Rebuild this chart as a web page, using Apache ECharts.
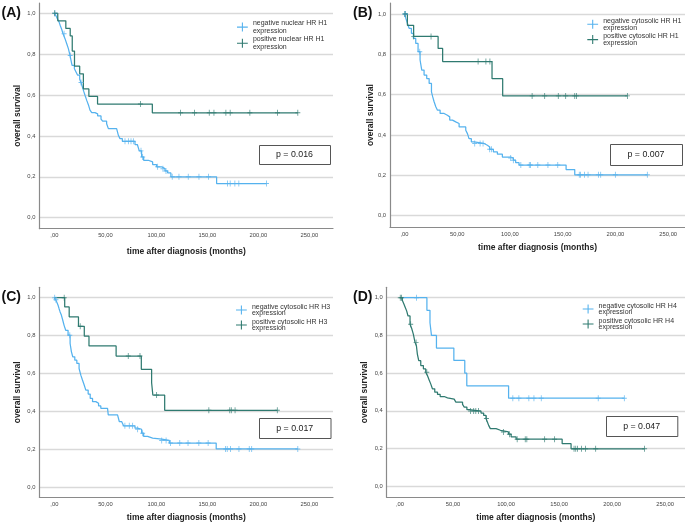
<!DOCTYPE html>
<html><head><meta charset="utf-8">
<script src="https://cdn.jsdelivr.net/npm/echarts@6/dist/echarts.min.js"></script>
<style>
html,body{margin:0;padding:0;background:#fff;width:685px;height:525px;overflow:hidden}
.p{position:absolute}
</style></head><body>
<div id="pA" class="p" style="left:0;top:0;width:340px;height:260px"></div>
<div id="pB" class="p" style="left:340px;top:0;width:345px;height:260px"></div>
<div id="pC" class="p" style="left:0;top:260px;width:340px;height:265px"></div>
<div id="pD" class="p" style="left:340px;top:260px;width:345px;height:265px"></div>
<script>
// ---------- tick labels ----------
const xTicks = [0, 50, 100, 150, 200, 250];
const yTicks = [0, 0.2, 0.4, 0.6, 0.8, 1.0];
const xTitle = 'time after diagnosis (months)';
const yTitle = 'overall survival';
const panelLabels = ['(A)', '(B)', '(C)', '(D)'];
const pValues = ['p = 0.016', 'p = 0.007', 'p = 0.017', 'p = 0.047'];

// ---------- legend labels ----------
const A_names = ['negative nuclear HR H1\nexpression', 'positive nuclear HR H1\nexpression'];
const B_names = ['negative cytosolic HR H1\nexpression', 'positive cytosolic HR H1\nexpression'];
const C_names = ['negative cytosolic HR H3\nexpression', 'positive cytosolic HR H3\nexpression'];
const D_names = ['negative cytosolic HR H4\nexpression', 'positive cytosolic HR H4\nexpression'];

// ---------- Panel A ----------
const A_neg_time = [0, 1.3, 2.9, 4.6, 5.9, 7.2, 8.5, 10.4, 12.1, 13.7, 15.3, 16.3, 17.3, 19.6, 21.2, 22.8, 24.8, 26.1, 27.4, 28.7, 30.0, 31.7, 33.3, 34.9, 36.6, 39.8, 42.4, 45.7, 47.3, 51.2, 52.9, 61.0, 62.7, 64.3, 66.6, 79.0, 81.3, 83.2, 85.5, 87.5, 92.0, 96.3, 100.2, 105.1, 108.4, 111.0, 114.2, 159.0, 207.9];
const A_neg_surv = [1, 0.99, 0.974, 0.957, 0.938, 0.921, 0.90, 0.876, 0.851, 0.827, 0.794, 0.77, 0.745, 0.729, 0.713, 0.697, 0.677, 0.661, 0.64, 0.619, 0.599, 0.574, 0.553, 0.526, 0.514, 0.508, 0.498, 0.482, 0.472, 0.46, 0.436, 0.428, 0.403, 0.387, 0.374, 0.358, 0.351, 0.327, 0.297, 0.281, 0.273, 0.26, 0.249, 0.24, 0.229, 0.219, 0.2, 0.167, 0.167];
const A_neg_censor = [0.5, 9.5, 15.5, 26.1, 69.2, 72.5, 75.1, 77.4, 84.9, 86.5, 101.2, 106.4, 109.4, 115.5, 122.1, 131.2, 141.7, 151.1, 169.7, 172.3, 176.9, 180.8, 207.9];
const A_pos_time = [0, 3.3, 11.2, 15.5, 17.5, 19.7, 24.8, 28.4, 33.8, 42.3, 96, 238.6];
const A_pos_surv = [1, 0.963, 0.926, 0.889, 0.815, 0.741, 0.704, 0.63, 0.593, 0.556, 0.513, 0.513];
const A_pos_censor = [0.3, 84.3, 123.7, 137.4, 151.8, 156.4, 168.1, 172.3, 191.6, 218.7, 238.6];

// ---------- Panel B ----------
const B_neg_time = [0, 1.3, 2.8, 4.4, 6.6, 8.5, 10.7, 12.9, 14.8, 16.4, 18.6, 21.1, 23.4, 25.6, 26.8, 28.1, 29.7, 31.3, 33.8, 37.6, 40.7, 42.9, 45.5, 48.6, 51.8, 58.1, 59.7, 61.2, 63.4, 66.0, 75.4, 78.6, 80.8, 84.3, 88.1, 92.8, 100.7, 103.2, 105.4, 108.6, 153.2, 161.4, 230.2];
const B_neg_surv = [1, 0.978, 0.954, 0.929, 0.904, 0.879, 0.854, 0.813, 0.772, 0.722, 0.697, 0.68, 0.656, 0.614, 0.589, 0.565, 0.54, 0.523, 0.507, 0.498, 0.49, 0.474, 0.465, 0.457, 0.44, 0.424, 0.407, 0.382, 0.366, 0.358, 0.349, 0.341, 0.329, 0.316, 0.305, 0.291, 0.286, 0.275, 0.263, 0.251, 0.229, 0.203, 0.203];
const B_neg_censor = [0.3, 1.0, 14.5, 66.6, 71.7, 74.5, 80.8, 82.4, 100.7, 103.2, 110.3, 118.3, 119.5, 126.4, 136.0, 145.3, 165.7, 166.8, 170.6, 174.0, 183.8, 186.0, 199.9, 230.2];
const B_pos_time = [0, 2.8, 8.7, 31.9, 36.2, 83.0, 93.1, 211.3];
const B_pos_surv = [1, 0.944, 0.889, 0.829, 0.764, 0.679, 0.594, 0.594];
const B_pos_censor = [0.5, 8.8, 25.2, 69.8, 77.2, 81.0, 121.0, 132.9, 145.8, 152.8, 161.4, 163.0, 211.3];

// ---------- Panel C ----------
const C_neg_time = [0, 1.3, 2.3, 3.6, 4.6, 5.6, 6.9, 8.2, 9.5, 11.1, 13.4, 15.4, 16.7, 18.0, 20.0, 22.0, 24.2, 25.9, 27.5, 29.2, 30.8, 33.1, 35.1, 37.4, 40.6, 43.3, 45.5, 52.1, 52.8, 61.9, 63.6, 65.9, 67.8, 79.0, 81.6, 85.5, 87.5, 91.4, 96.3, 105.2, 112.7, 158.6, 238.6];
const C_neg_surv = [1, 0.989, 0.977, 0.96, 0.942, 0.925, 0.907, 0.881, 0.854, 0.828, 0.802, 0.758, 0.714, 0.688, 0.67, 0.653, 0.626, 0.591, 0.565, 0.539, 0.512, 0.491, 0.468, 0.451, 0.442, 0.428, 0.416, 0.407, 0.381, 0.372, 0.346, 0.337, 0.323, 0.311, 0.305, 0.284, 0.267, 0.258, 0.253, 0.246, 0.232, 0.201, 0.201];
const C_neg_censor = [0.3, 1.5, 15.1, 69.1, 73.4, 76.7, 81.6, 86.5, 105.2, 109.5, 113.7, 122.9, 131.0, 141.6, 150.7, 167.8, 169.4, 172.7, 180.9, 191.0, 193.4, 238.6];
const C_pos_time = [0, 10.1, 14.5, 23.6, 29.3, 33.9, 60.5, 85.2, 95.3, 96.5, 108.1, 218.5];
const C_pos_surv = [1, 0.951, 0.899, 0.849, 0.797, 0.745, 0.692, 0.622, 0.551, 0.486, 0.405, 0.405];
const C_pos_censor = [9.6, 25.3, 72.4, 83.9, 100.2, 151.4, 171.9, 173.4, 177.1, 218.5];

// ---------- Panel D ----------
const D_neg_time = [0, 25.4, 28.3, 29.7, 34.4, 50.8, 61.1, 63.0, 102.4, 211.5];
const D_neg_surv = [1, 0.933, 0.867, 0.8, 0.733, 0.667, 0.6, 0.533, 0.467, 0.467];
const D_neg_censor = [15.5, 106.4, 112.1, 121.5, 126.3, 133.2, 186.9, 211.5];
const D_pos_time = [0, 2.2, 3.8, 5.1, 6.3, 7.6, 9.5, 11.0, 12.6, 14.2, 15.5, 16.4, 17.7, 19.6, 22.1, 24.3, 25.9, 27.5, 29.0, 30.6, 32.8, 35.4, 37.9, 41.7, 44.8, 51.1, 52.7, 59.0, 60.6, 63.1, 65.3, 76.4, 78.9, 81.1, 82.4, 83.6, 85.2, 90.6, 94.7, 102.3, 104.8, 109.5, 152.9, 161.3, 230.6];
const D_pos_surv = [1, 0.986, 0.965, 0.947, 0.93, 0.903, 0.859, 0.838, 0.807, 0.763, 0.745, 0.701, 0.666, 0.64, 0.622, 0.605, 0.587, 0.564, 0.543, 0.517, 0.499, 0.487, 0.476, 0.469, 0.462, 0.455, 0.446, 0.434, 0.42, 0.406, 0.399, 0.388, 0.376, 0.359, 0.341, 0.323, 0.306, 0.297, 0.288, 0.276, 0.262, 0.25, 0.226, 0.199, 0.199];
const D_pos_censor = [0.3, 1.5, 10.1, 15.2, 25.3, 66.6, 69.5, 71.5, 74.0, 81.5, 97.5, 103.2, 110.5, 118.1, 119.6, 136.4, 145.8, 164.1, 165.7, 167.3, 171.1, 174.9, 184.5, 230.6];

// ---------- styling ----------
const NEG_COLOR = '#55b2ee';
const POS_COLOR = '#2f7a70';
const FONT = 'Liberation Sans, Arial, sans-serif';
const CROSS = 'path://M0,4.2H10V5.8H0Z M4.2,0H5.8V10H4.2Z';
const LEG_ICON = 'path://M0,4.4H12V5.6H0Z M5.4,0H6.6V10H5.4Z';

function stepData(T, S) { return T.map((t, i) => [t, S[i]]); }
function survAt(T, S, t) {
  let s = S[0];
  for (let i = 0; i < T.length; i++) { if (T[i] <= t + 1e-9) s = S[i]; else break; }
  return s;
}
function censorData(T, S, C) { return C.map(t => [t, survAt(T, S, t)]); }
const fmtX = v => (v === 0 ? ',00' : v.toFixed(2).replace('.', ','));
const fmtY = v => v.toFixed(1).replace('.', ',');

function build(cfg) {
  const chart = echarts.init(document.getElementById(cfg.el), null, { renderer: 'canvas' });
  const series = [];
  cfg.curves.forEach(c => {
    series.push({
      type: 'line', name: c.name, step: 'end', data: stepData(c.T, c.S),
      showSymbol: false, symbol: 'none', color: c.color, itemStyle: { color: c.color },
      lineStyle: { color: c.color, width: 1.25 }, silent: true, z: 3
    });
  });
  cfg.curves.forEach((c, k) => {
    series.push({
      type: 'scatter', name: 'censored ' + k, data: censorData(c.T, c.S, c.C),
      symbol: CROSS, symbolSize: [5, 6], itemStyle: { color: c.color }, silent: true, z: 4
    });
  });
  chart.setOption({
    animation: false,
    grid: Object.assign({ containLabel: false, outerBoundsMode: 'none' }, cfg.grid),
    xAxis: {
      type: 'value', min: cfg.x[0], max: cfg.x[1],
      name: xTitle, nameLocation: 'middle', nameGap: cfg.nameGapX, nameMoveOverlap: false,
      nameTextStyle: { fontWeight: 'bold', fontSize: 8.5, color: '#222', fontFamily: FONT },
      axisLine: { show: true, onZero: false, lineStyle: { color: '#8a8a8a', width: 1.2 } },
      axisTick: { show: false, customValues: xTicks },
      axisLabel: { customValues: xTicks, formatter: fmtX, fontSize: 5.8, color: '#444', margin: 4, fontFamily: FONT },
      splitLine: { show: false }
    },
    yAxis: {
      type: 'value', min: cfg.y[0], max: cfg.y[1],
      name: yTitle, nameLocation: 'middle', nameGap: cfg.nameGapY, nameMoveOverlap: false,
      nameTextStyle: { fontWeight: 'bold', fontSize: 8.5, color: '#222', fontFamily: FONT },
      axisLine: { show: true, onZero: false, lineStyle: { color: '#8a8a8a', width: 1.2 } },
      axisTick: { show: false, customValues: yTicks },
      axisLabel: { customValues: yTicks, formatter: fmtY, fontSize: 5.8, color: '#444', margin: 4, fontFamily: FONT },
      splitLine: { show: true, lineStyle: { color: '#d9d9d9', width: 1.3 } }
    },
    legend: {
      orient: 'vertical', left: cfg.legend.left, top: cfg.legend.top, itemGap: cfg.legend.gap,
      padding: 0, itemWidth: 11, itemHeight: 9, icon: LEG_ICON, selectedMode: false,
      textStyle: { fontSize: 7, lineHeight: cfg.legend.lh, color: '#333', fontFamily: FONT },
      data: cfg.curves.map(c => c.name)
    },
    graphic: [
      { type: 'text', x: cfg.label.x, y: cfg.label.y, z: 20,
        style: { text: cfg.label.text, fontSize: 14, fontWeight: 'bold', fontFamily: FONT, fill: '#111',
                 verticalAlign: 'middle', textVerticalAlign: 'middle' } },
      { type: 'rect', z: 20, shape: { x: cfg.pbox.x + 0.5, y: cfg.pbox.y + 0.5, width: cfg.pbox.w, height: cfg.pbox.h },
        style: { fill: '#fff', stroke: '#555', lineWidth: 1 } },
      { type: 'text', z: 21, x: cfg.pbox.x + cfg.pbox.w / 2, y: cfg.pbox.y + cfg.pbox.h / 2 + 0.5,
        style: { text: cfg.pbox.text, fontSize: 8.8, fontFamily: FONT, fill: '#222',
                 align: 'center', textAlign: 'center', verticalAlign: 'middle', textVerticalAlign: 'middle' } }
    ],
    series
  });
}

build({
  el: 'pA', grid: { left: 39.4, right: 7, top: 3, bottom: 31.3 },
  x: [-14.7, 273.1], y: [-0.0538, 1.0504], nameGapX: 18, nameGapY: 17,
  legend: { left: 237, top: 19.4, gap: 0.7, lh: 7.7 },
  label: { x: 1.5, y: 13, text: panelLabels[0] },
  pbox: { x: 259, y: 145, w: 71, h: 19, text: pValues[0] },
  curves: [
    { name: A_names[0], color: NEG_COLOR, T: A_neg_time, S: A_neg_surv, C: A_neg_censor },
    { name: A_names[1], color: POS_COLOR, T: A_pos_time, S: A_pos_surv, C: A_pos_censor }
  ]
});
build({
  el: 'pB', grid: { left: 50, right: 0, top: 3, bottom: 32.7 },
  x: [-13.7, 265.9], y: [-0.0575, 1.0545], nameGapX: 16, nameGapY: 15,
  legend: { left: 247.3, top: 17, gap: 0.7, lh: 7.3 },
  label: { x: 13, y: 13, text: panelLabels[1] },
  pbox: { x: 270, y: 144, w: 72, h: 21, text: pValues[1] },
  curves: [
    { name: B_names[0], color: NEG_COLOR, T: B_neg_time, S: B_neg_surv, C: B_neg_censor },
    { name: B_names[1], color: POS_COLOR, T: B_pos_time, S: B_pos_surv, C: B_pos_censor }
  ]
});
build({
  el: 'pC', grid: { left: 39.4, right: 7, top: 27.3, bottom: 27.7 },
  x: [-14.7, 273.1], y: [-0.0544, 1.055], nameGapX: 16, nameGapY: 17.4,
  legend: { left: 236, top: 43.5, gap: 2, lh: 6 },
  label: { x: 1.5, y: 37.5, text: panelLabels[2] },
  pbox: { x: 259, y: 158, w: 71.5, h: 20, text: pValues[2] },
  curves: [
    { name: C_names[0], color: NEG_COLOR, T: C_neg_time, S: C_neg_surv, C: C_neg_censor },
    { name: C_names[1], color: POS_COLOR, T: C_pos_time, S: C_pos_surv, C: C_pos_censor }
  ]
});
build({
  el: 'pD', grid: { left: 46.7, right: 0, top: 27.3, bottom: 27.7 },
  x: [-12.5, 268.7], y: [-0.0583, 1.055], nameGapX: 16, nameGapY: 18,
  legend: { left: 242.7, top: 42.5, gap: 2, lh: 6 },
  label: { x: 13, y: 37.5, text: panelLabels[3] },
  pbox: { x: 266, y: 156, w: 71.3, h: 20, text: pValues[3] },
  curves: [
    { name: D_names[0], color: NEG_COLOR, T: D_neg_time, S: D_neg_surv, C: D_neg_censor },
    { name: D_names[1], color: POS_COLOR, T: D_pos_time, S: D_pos_surv, C: D_pos_censor }
  ]
});
</script>
</body></html>
